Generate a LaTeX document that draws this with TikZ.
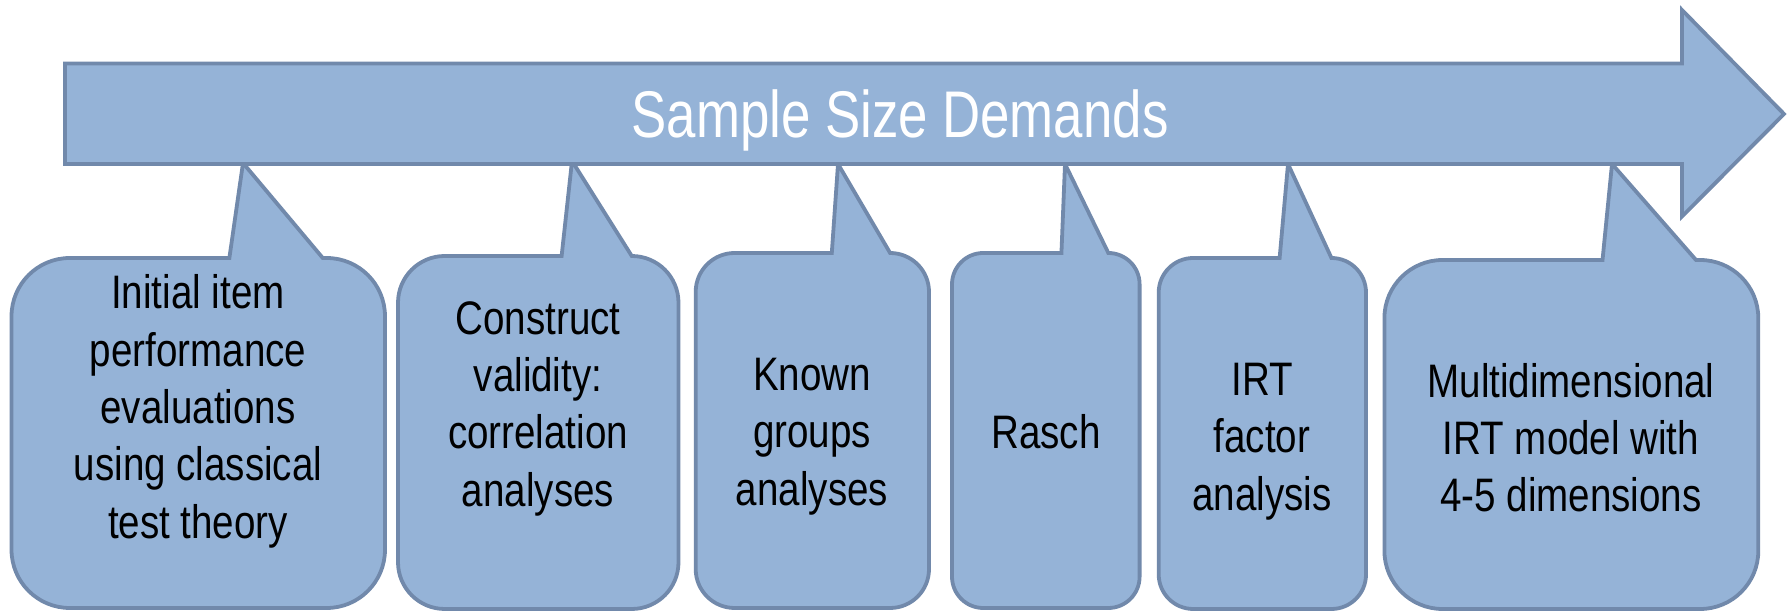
\documentclass[tikz,border=0pt]{standalone}
\usepackage{fontspec}
\setmainfont{Liberation Sans}[FakeStretch=0.82]
\newfontfamily\titlefont{Liberation Sans}[FakeStretch=0.80]
\definecolor{boxfill}{RGB}{149,179,215}
\definecolor{boxline}{RGB}{113,137,171}
\tikzset{
  shapestyle/.style={fill=boxfill, draw=boxline, line width=3.8bp, line join=miter},
  bodytext/.style={anchor=north, inner sep=0pt, align=center, text=black,
    font=\fontsize{47bp}{57.3bp}\selectfont},
  titletext/.style={anchor=base, inner sep=0pt, text=white,
    font=\titlefont\fontsize{66bp}{76bp}\selectfont}
}
% #1 L, #2 R, #3 T, #4 B, #5 tip x, #6 tip y  (image pixel coordinates, y downwards)
\newcommand\mycallout[6]{%
  \pgfmathsetmacro\coL{#1}%
  \pgfmathsetmacro\coR{#2}%
  \pgfmathsetmacro\coT{612-#3}%
  \pgfmathsetmacro\coB{612-#4}%
  \pgfmathsetmacro\coW{#2-#1}%
  \pgfmathsetmacro\coH{#4-#3}%
  \pgfmathsetmacro\coRad{min(\coW,\coH)/6}%
  \pgfmathsetmacro\coBl{#1+7*\coW/12}%
  \pgfmathsetmacro\coBr{#1+10*\coW/12}%
  \pgfmathsetmacro\coTx{#5}%
  \pgfmathsetmacro\coTy{612-#6}%
  \draw[shapestyle] (\coBl,\coT) -- (\coTx,\coTy) -- (\coBr,\coT) -- (\coR-\coRad,\coT)
    arc[start angle=90,end angle=0,radius=\coRad] -- (\coR,\coB+\coRad)
    arc[start angle=0,end angle=-90,radius=\coRad] -- (\coL+\coRad,\coB)
    arc[start angle=-90,end angle=-180,radius=\coRad] -- (\coL,\coT-\coRad)
    arc[start angle=180,end angle=90,radius=\coRad] -- cycle;
}
\begin{document}
\begin{tikzpicture}[x=1bp,y=1bp]
\useasboundingbox (0,0) rectangle (1790,612);
% callouts
\mycallout{11.5}{385}{258}{608}{243}{163}
\mycallout{398}{678.5}{256}{609}{572}{161}
\mycallout{695.7}{929}{253}{608}{838}{164}
\mycallout{952}{1139.6}{253}{608}{1065}{164}
\mycallout{1158.7}{1366}{258}{609}{1288}{164}
\mycallout{1384.4}{1758.3}{260}{609}{1612}{164}
% big arrow
\draw[shapestyle] (65,548.5) -- (1682,548.5) -- (1682,602) -- (1784,498)
  -- (1682,395.5) -- (1682,448) -- (65,448) -- cycle;
\node[titletext] (title) at (900,474) {Sample Size Demands};
% texts
\node[bodytext] (t1) at (198,337.4) {Initial item\\performance\\evaluations\\using classical\\test theory};
\node[bodytext] (t2) at (538,310.7) {Construct\\validity:\\correlation\\analyses};
\node[bodytext] (t3) at (812,254) {Known\\groups\\analyses};
\node[bodytext] (t4) at (1046,197.4) {Rasch};
\node[bodytext] (t5) at (1262,249) {IRT\\factor\\analysis};
\node[bodytext] (t6) at (1571,249) {Multidimensional\\IRT model with\\4-5 dimensions};
\end{tikzpicture}
\end{document}
